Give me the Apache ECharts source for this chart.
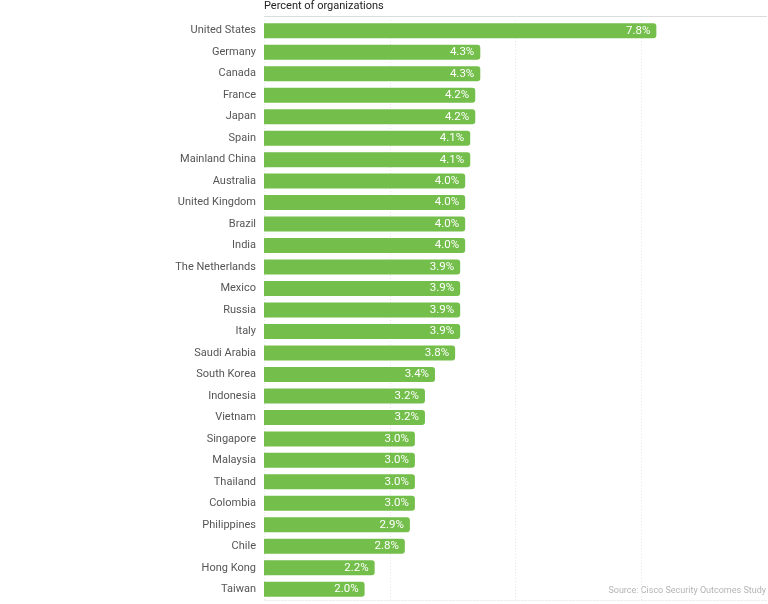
<!DOCTYPE html>
<html><head><meta charset="utf-8">
<script src="https://cdn.jsdelivr.net/npm/echarts@6/dist/echarts.min.js"></script>
<style>html,body{margin:0;padding:0;background:#fff}#c{width:768px;height:604px}</style>
</head><body><div id="c"></div>
<script>
const countries = ["United States","Germany","Canada","France","Japan","Spain","Mainland China","Australia","United Kingdom","Brazil","India","The Netherlands","Mexico","Russia","Italy","Saudi Arabia","South Korea","Indonesia","Vietnam","Singapore","Malaysia","Thailand","Colombia","Philippines","Chile","Hong Kong","Taiwan"];
const values = [7.8,4.3,4.3,4.2,4.2,4.1,4.1,4.0,4.0,4.0,4.0,3.9,3.9,3.9,3.9,3.8,3.4,3.2,3.2,3.0,3.0,3.0,3.0,2.9,2.8,2.2,2.0];
const axisTitle = "Percent of organizations";
const sourceText = "Source: Cisco Security Outcomes Study";

const chart = echarts.init(document.getElementById('c'), null, {renderer:'canvas'});
const FONT = 'Roboto, "Liberation Sans", Arial, sans-serif';
chart.setOption({
  animation:false,
  textStyle:{fontFamily:FONT},
  grid:{left:264, right:1, top:20, bottom:4, containLabel:false},
  title:{text:axisTitle, left:264, top:1, padding:0, textStyle:{fontSize:11, fontWeight:'normal', color:'#222', fontFamily:FONT}},
  graphic:[
    {type:'line', shape:{x1:264,y1:16.5,x2:767,y2:16.5}, style:{stroke:'#dcdcdc', lineWidth:1}},
    {type:'text', right:2, top:586, style:{text:sourceText, fill:'#b4b4b4', fontSize:9, fontFamily:FONT}}
  ],
  xAxis:{type:'value', min:0, max:10, interval:2.5,
    axisLine:{show:true, lineStyle:{color:'#e6e6e6', type:[1,2], width:1}}, axisTick:{show:false}, axisLabel:{show:false},
    splitLine:{show:true, showMaxLine:false, lineStyle:{color:'#e6e6e6', type:[1,2], width:1}}},
  yAxis:{type:'category', data:countries, inverse:true,
    axisLine:{show:false}, axisTick:{show:false},
    axisLabel:{color:'#555', fontSize:11, margin:8, fontFamily:FONT}},
  series:[{type:'bar', data:values, barWidth:15,
    itemStyle:{color:'#74bf4b', borderRadius:[0,3,3,0]},
    label:{show:true, position:'insideRight', distance:6, color:'#fff', fontSize:11.5, fontFamily:FONT,
      formatter:p=>p.value.toFixed(1)+'%'}}]
});
</script></body></html>
